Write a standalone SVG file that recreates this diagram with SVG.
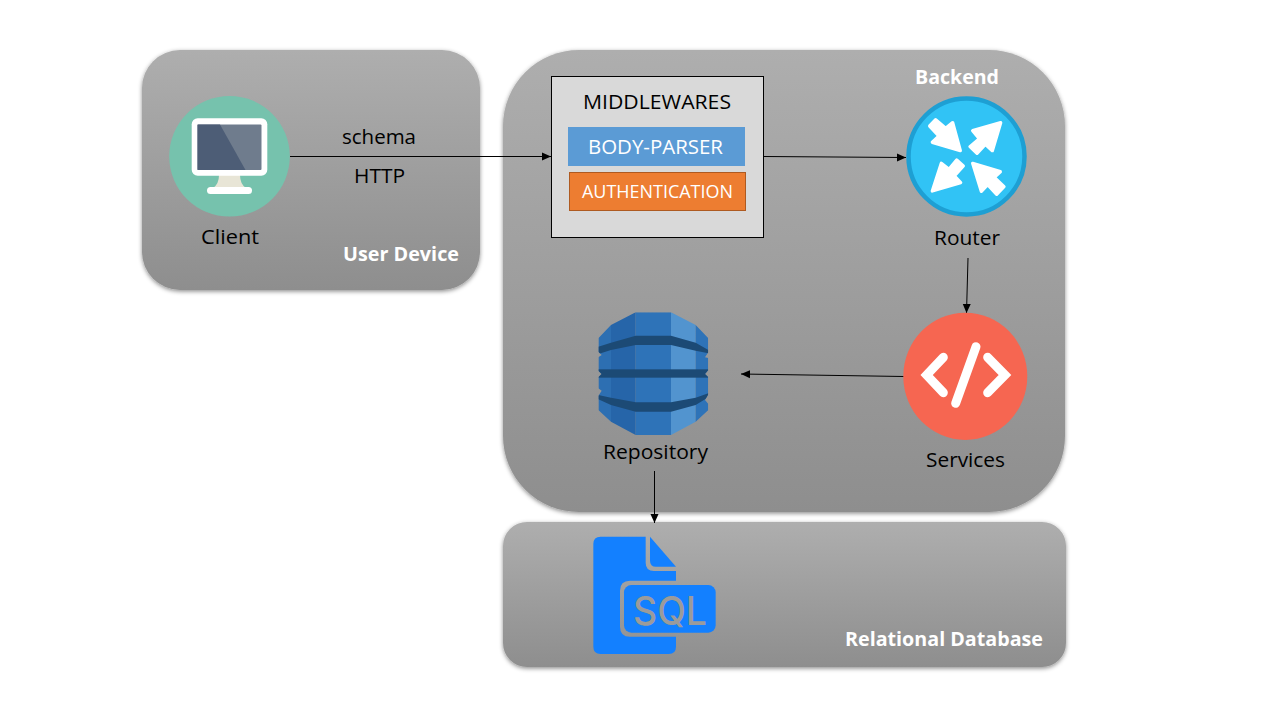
<svg xmlns="http://www.w3.org/2000/svg" width="1280" height="720" viewBox="0 0 1280 720">
<style>
text{font-family:"Open Sans","Noto Sans","Liberation Sans",sans-serif;font-size:20px;fill:#000}
.w{fill:#fff;font-weight:700}
.l{fill:#fff}
.panel{fill:url(#g);filter:url(#s)}
.c{stroke:#000;stroke-width:1;fill:none;marker-end:url(#a)}
.arw{fill:#fff;stroke:#fff;stroke-width:10;stroke-linejoin:round}
.cod{fill:none;stroke:#fff;stroke-width:27;stroke-linecap:round}
</style>
<defs>
<linearGradient id="g" x1="0" y1="0" x2="0" y2="1"><stop offset="0" stop-color="#aeaeae"/><stop offset="1" stop-color="#8e8e8e"/></linearGradient>
<filter id="s" x="-5%" y="-5%" width="110%" height="112%"><feDropShadow dx="0" dy="1.5" stdDeviation="2" flood-color="#000" flood-opacity=".45"/></filter>
<marker id="a" markerUnits="userSpaceOnUse" markerWidth="9" markerHeight="9" refX="9" refY="4.5" orient="auto"><path d="M0,.5L9,4.5L0,8.5Z" fill="#000"/></marker>
<clipPath id="rc"><path d="M55,115L93,75L167,37H273L347,75L385,115V157L375,172L385,174V210L375,222L385,232V283L375,300L385,312V330L347,365L273,405H167L93,365L55,330V288L65,272L55,265V232L65,222L55,212V172L65,165L55,155Z"/></clipPath>
</defs>

<g id="user-device">
<rect class="panel" x="142" y="50" width="338" height="240" rx="38"/>
<text class="w" x="343" y="261" textLength="116" lengthAdjust="spacingAndGlyphs">User Device</text>
</g>
<g id="backend">
<rect class="panel" x="503" y="50" width="562" height="462" rx="76"/>
<text class="w" x="915" y="84" textLength="84" lengthAdjust="spacingAndGlyphs">Backend</text>
</g>
<g id="relational-database">
<rect class="panel" x="503" y="522" width="563" height="145" rx="24"/>
<text class="w" x="845" y="646" textLength="198" lengthAdjust="spacingAndGlyphs">Relational Database</text>
<g id="sql-icon">
<g transform="translate(580 520) scale(.33333)">
<path d="M62,50H197V128Q197,153 222,153H288V182H150Q120,182 120,212V320Q120,350 150,350H288V380Q288,402 266,402H62Q40,402 40,380V72Q40,50 62,50Z" fill="#1380ff"/>
<path d="M210,50L288,140H228Q210,140 210,122Z" fill="#1380ff"/>
<rect x="132" y="195" width="275" height="143" rx="22" fill="#1380ff"/>
</g>
<text x="670" y="625" textLength="74" lengthAdjust="spacingAndGlyphs" text-anchor="middle" style="font-family:Inter,'Open Sans',sans-serif;font-size:39px;font-weight:500;fill:#9b9b9b">SQL</text>
</g>
</g>

<g id="connectors">
<line class="c" x1="290" y1="156.500" x2="551" y2="156.500"/>
<line class="c" x1="764" y1="156.500" x2="906" y2="157.500"/>
<line class="c" x1="968" y1="258" x2="966.500" y2="313"/>
<line class="c" x1="904" y1="376.500" x2="741" y2="374"/>
<line class="c" x1="654.500" y1="471" x2="654.500" y2="523"/>
</g>

<g id="client">
<circle cx="229.500" cy="156.300" r="60.300" fill="#76c2ad"/>
<path d="M219,175H240Q240,184 246,188H213Q219,184 219,175Z" fill="#e8e5d6"/>
<rect x="191.700" y="118.300" width="75.600" height="57.400" rx="6" fill="#fff"/>
<rect x="197.500" y="124.500" width="64" height="45.500" rx="1" fill="#6f7c8d"/>
<path d="M197.500,124.500H220L245.500,170H197.500Z" fill="#4d5d76"/>
<rect x="207" y="187" width="45" height="7" rx="3.500" fill="#fff"/>
<text x="201" y="244" textLength="58" lengthAdjust="spacingAndGlyphs">Client</text>
</g>

<g id="edge-labels">
<text x="342" y="144" textLength="74" lengthAdjust="spacingAndGlyphs">schema</text>
<text x="354" y="183" textLength="51" lengthAdjust="spacingAndGlyphs">HTTP</text>
</g>

<g id="middlewares">
<rect x="551.500" y="76.500" width="212" height="161" fill="#d9d9d9" stroke="#000"/>
<text x="583" y="109" textLength="148" lengthAdjust="spacingAndGlyphs">MIDDLEWARES</text>
</g>
<g id="body-parser">
<rect x="568" y="127" width="177" height="39" fill="#5b9bd5"/>
<text class="l" x="588" y="154" textLength="135" lengthAdjust="spacingAndGlyphs">BODY-PARSER</text>
</g>
<g id="authentication">
<rect x="569.500" y="172.500" width="176" height="38" fill="#ed7d31" stroke="#ae5a21"/>
<text class="l" x="582" y="198" textLength="151" lengthAdjust="spacingAndGlyphs" style="font-size:18.700px">AUTHENTICATION</text>
</g>

<g id="router">
<circle cx="966.500" cy="156.500" r="58" fill="#31c3f5" stroke="#1e9fd3" stroke-width="4.500"/>
<g transform="translate(890 60) scale(.33333)">
<path class="arw" d="M119,198L137,179L167,205L188,188L211,272L127,247L147,228Z"/>
<path class="arw" d="M332,188L307,272L286,253L261,280L240,260L268,236L248,212Z"/>
<path class="arw" d="M127,393L154,310L177,328L200,300L220,318L193,348L212,368Z"/>
<path class="arw" d="M248,310L331,335L313,352L342,380L320,403L293,374L274,394Z"/>
</g>
<text x="934" y="245" textLength="66" lengthAdjust="spacingAndGlyphs">Router</text>
</g>

<g id="services">
<ellipse cx="965.300" cy="376.300" rx="62" ry="63.600" fill="#f66651"/>
<g transform="translate(890 300) scale(.33333)">
<path class="cod" d="M160,172L110,225L160,278" stroke-linejoin="miter"/>
<path class="cod" d="M258,140L197,310"/>
<path class="cod" d="M293,172L345,225L293,278" stroke-linejoin="miter"/>
</g>
<text x="926" y="467" textLength="79" lengthAdjust="spacingAndGlyphs">Services</text>
</g>

<g id="repository">
<g transform="translate(580 300) scale(.33333)">
<g clip-path="url(#rc)">
<rect x="55" y="30" width="38" height="380" fill="#2d6fb2"/>
<rect x="93" y="30" width="74" height="380" fill="#2665a9"/>
<rect x="167" y="30" width="106" height="380" fill="#2e73b8"/>
<rect x="273" y="30" width="74" height="380" fill="#5294cf"/>
<rect x="347" y="30" width="38" height="380" fill="#2e73b8"/>
<path d="M55,140L93,128L167,107H273L347,128L385,150V160L347,152L273,135H167L93,150L55,162Z" fill="#1c4a75"/>
<rect x="55" y="208" width="330" height="25" fill="#1c4a75"/>
<path d="M55,285L93,293L167,307H273L347,293L385,280V292L347,315L273,335H167L93,315L55,298Z" fill="#1c4a75"/>
</g>
</g>
<text x="603" y="459" textLength="105" lengthAdjust="spacingAndGlyphs">Repository</text>
</g>
</svg>
